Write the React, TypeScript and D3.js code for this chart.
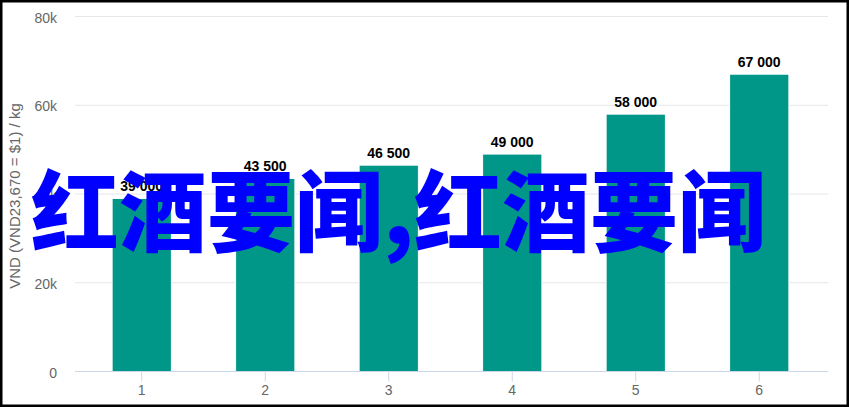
import React from 'react';
import * as d3 from 'd3';

const width = 849;
const height = 407;
const margin = {top: 16.5, right: 21, bottom: 35.5, left: 75};
const barColor = '#009688';
const gridColor = '#e6e6e6';
const axisColor = '#ccd6eb';
const labelColor = '#666666';

const categories = ['1', '2', '3', '4', '5', '6'];
const prices = [39000, 43500, 46500, 49000, 58000, 67000];
const yTicks = [0, 20000, 40000, 60000, 80000];
const yTickLabels = ['0', '20k', '40k', '60k', '80k'];
const yTitle = 'VND (VND23,670 = $1) / kg';
const overlayText = '红酒要闻,红酒要闻';

const fmt = (v: number) => d3.format(',')(v).replace(/,/g, ' ');

const App: React.FC = () => {
  const plotRight = width - margin.right;
  const plotBottom = height - margin.bottom;

  const xScale = d3.scaleBand<string>()
    .domain(categories)
    .range([80, 821])
    .paddingInner(0)
    .paddingOuter(0);

  const yScale = d3.scaleLinear()
    .domain([0, 80000])
    .range([plotBottom, margin.top]);

  const step = xScale.bandwidth();
  const barWidth = step * 0.48;

  return (
    <svg width={width} height={height}
      style={{position: 'absolute', left: 0, top: 0, background: '#fff'}}
      fontFamily='"Liberation Sans", Arial, sans-serif'>
      {/* grid */}
      {yTicks.map((t, i) => (
        <g key={t}>
          {t > 0 &&
            <line x1={margin.left} x2={plotRight} y1={yScale(t)} y2={yScale(t)}
              stroke={gridColor} strokeWidth={1} />}
          <text x={57} y={yScale(t) + 6} textAnchor='end' fontSize={14} fill={labelColor}>
            {yTickLabels[i]}
          </text>
        </g>
      ))}

      {/* bars */}
      {prices.map((v, i) => {
        const cx = (xScale(categories[i]) as number) + step / 2;
        return (
          <g key={i}>
            <rect x={cx - barWidth / 2} y={yScale(v)} width={barWidth}
              height={plotBottom - yScale(v)} fill={barColor} stroke='#fff' strokeWidth={1} />
            <text x={cx} y={yScale(v) - 7} textAnchor='middle' fontSize={14} fontWeight='bold'
              fill='#000' stroke='#fff' strokeWidth={2} paintOrder='stroke' strokeLinejoin='round'>
              {fmt(v)}
            </text>
          </g>
        );
      })}

      {/* x axis */}
      <line x1={margin.left} x2={plotRight} y1={plotBottom} y2={plotBottom} stroke={axisColor} strokeWidth={1} />
      {categories.map(c => {
        const cx = (xScale(c) as number) + step / 2;
        return (
          <g key={c}>
            <line x1={cx} x2={cx} y1={plotBottom} y2={plotBottom + 10} stroke={axisColor} strokeWidth={1} />
            <text x={cx} y={plotBottom + 23.5} textAnchor='middle' fontSize={14} fill={labelColor}>{c}</text>
          </g>
        );
      })}

      {/* y title */}
      <text transform={`translate(20, 196) rotate(-90)`} textAnchor='middle' fontSize={15} fill={labelColor}>
        {yTitle}
      </text>

      {/* overlay */}
      <text x={31} y={244} fontSize={88} fontWeight={900} fill='#0000ff'
        fontFamily='"Noto Sans CJK SC", sans-serif'>
        {overlayText}
      </text>

      {/* frame */}
      <rect x={1} y={1} width={width - 2} height={height - 2} fill='none' stroke='#000' strokeWidth={3} />
    </svg>
  );
};

export default App;
